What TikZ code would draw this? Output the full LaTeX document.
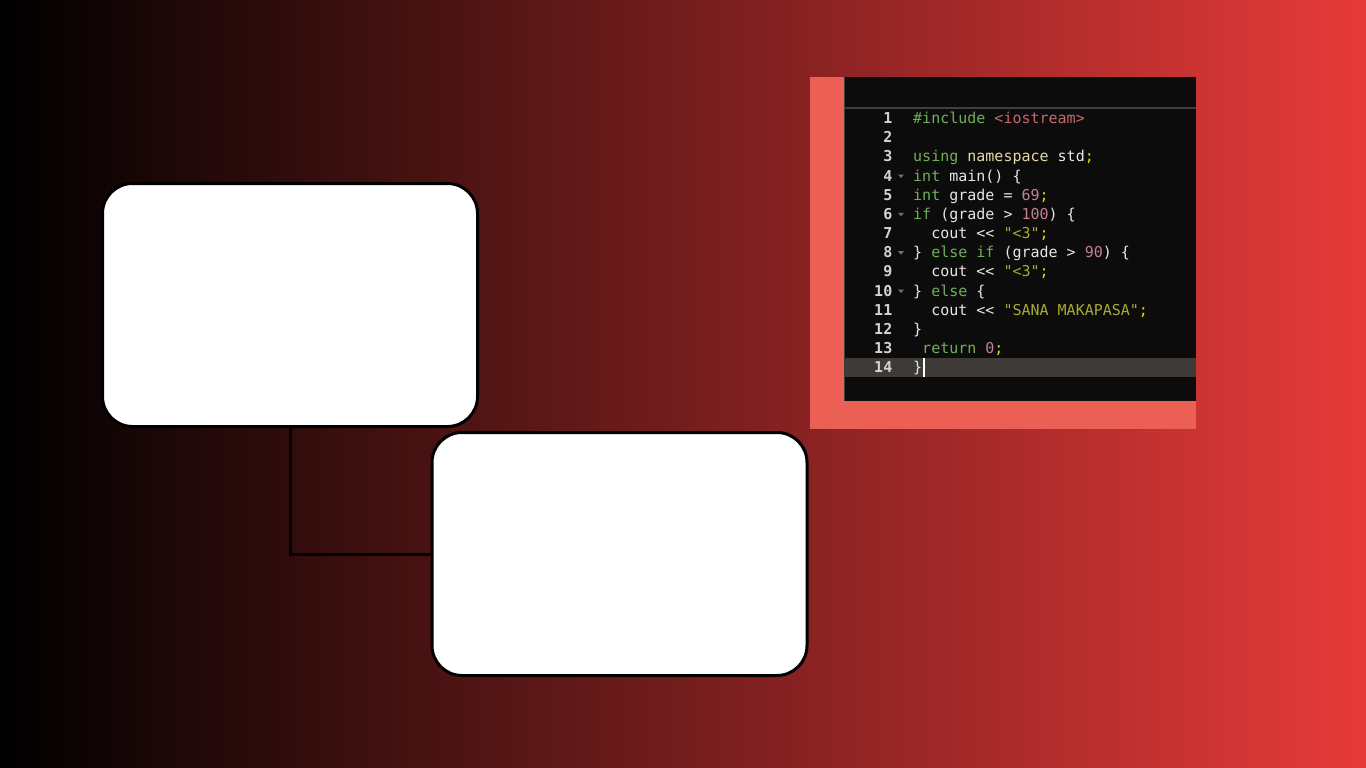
\documentclass[tikz,border=0pt]{standalone}
\usepackage{fontspec}
\setmonofont{DejaVu Sans Mono}
\usepackage{tikz}

\definecolor{bgred}{HTML}{E83A3A}
\definecolor{panelsalmon}{HTML}{EB5F55}
\definecolor{editorbg}{HTML}{0C0C0C}
\definecolor{activeline}{HTML}{3D3A37}
\definecolor{rulegray}{HTML}{3F3F3F}
\definecolor{foldgray}{HTML}{707070}
\definecolor{kwgreen}{HTML}{6FAE5B}
\definecolor{incred}{HTML}{C7686C}
\definecolor{nsyellow}{HTML}{E3D8A6}
\definecolor{plaintext}{HTML}{E6E6E6}
\definecolor{semiyellow}{HTML}{E6D600}
\definecolor{numpink}{HTML}{C58090}
\definecolor{strolive}{HTML}{A9A933}
\definecolor{lnumgray}{HTML}{D4D4D4}

\newcommand{\kw}[1]{\textcolor{kwgreen}{#1}}
\newcommand{\numlit}[1]{\textcolor{numpink}{#1}}
\newcommand{\strlit}[1]{\textcolor{strolive}{#1}}
\newcommand{\semi}{\textcolor{semiyellow}{;}}

\begin{document}
\begin{tikzpicture}[x=1pt,y=-1pt,
	card/.style={draw=black,line width=3pt,fill=white,rounded corners=30pt,minimum width=375pt,minimum height=243pt},
	lnum/.style={anchor=base east,text=lnumgray,inner sep=0pt,font=\fontsize{15}{18}\ttfamily\bfseries},
	code/.style={anchor=base west,text=plaintext,inner sep=0pt,font=\fontsize{15}{18}\ttfamily}]
	
	\useasboundingbox (0,0) rectangle (1366,768);
	\shade[left color=black,right color=bgred] (0,0) rectangle (1366,768);
	
	\node[card] (top) at (290, 305)     {};
	\node[card] (bottom) at (619.5, 554) {};
	
	\draw[line width=3pt] (top.south) |- (bottom.west);
	
	\fill[panelsalmon] (810,77) rectangle (1196,429);
	\fill[editorbg] (844,77) rectangle (1196,401);
	\draw[rulegray, line width=1pt] (844,77) -- (844,401);
	\draw[rulegray, line width=2pt] (844,107.7) -- (1196,107.7);
	\fill[activeline] (844,357.7) rectangle (1196,376.7);
	
	\foreach \n in {1,...,14}
		\node[lnum] (ln\n) at (892.5, {123.5+19.17*(\n-1)}) {\n};
	\foreach \n in {4,6,8,10}
		\fill[foldgray] (898, {123.5+19.17*(\n-1)-6.5}) -- ++(6,0) -- ++(-3,3.5) -- cycle;
	
	\node[code] (c1) at (913, 123.5)  {\kw{\#include} \textcolor{incred}{<iostream>}};
	\node[code] (c3) at (913, 161.84) {\kw{using} \textcolor{nsyellow}{namespace} std\semi};
	\node[code] (c4) at (913, 181.01) {\kw{int} main() \{};
	\node[code] (c5) at (913, 200.18) {\kw{int} grade = \numlit{69}\semi};
	\node[code] (c6) at (913, 219.35) {\kw{if} (grade > \numlit{100}) \{};
	\node[code] (c7) at (913, 238.52) {\ \ cout << \strlit{"<3"}\semi};
	\node[code] (c8) at (913, 257.69) {\} \kw{else if} (grade > \numlit{90}) \{};
	\node[code] (c9) at (913, 276.86) {\ \ cout << \strlit{"<3"}\semi};
	\node[code] (c10) at (913, 296.03) {\} \kw{else} \{};
	\node[code] (c11) at (913, 315.2)  {\ \ cout << \strlit{"SANA MAKAPASA"}\semi};
	\node[code] (c12) at (913, 334.37) {\}};
	\node[code] (c13) at (913, 353.54) {\ \kw{return} \numlit{0}\semi};
	\node[code] (c14) at (913, 372.71) {\}};
	
	\draw[white, line width=2pt] (924.3,358.3) -- (924.3,376.7);
	
\end{tikzpicture}
\end{document}
